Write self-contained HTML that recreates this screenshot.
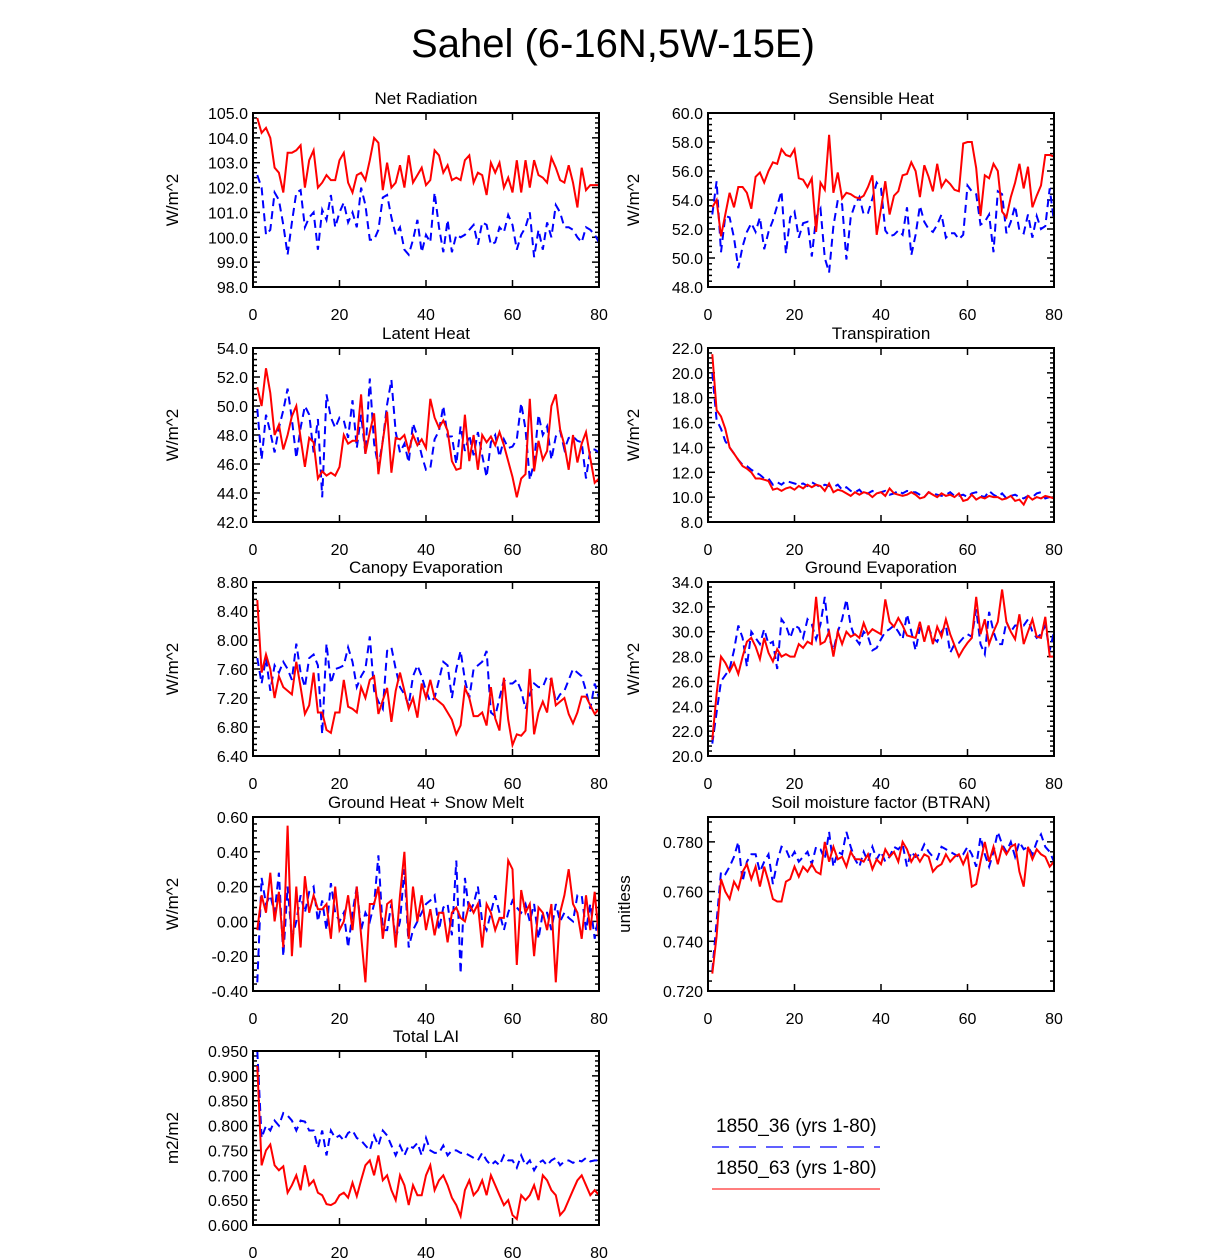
<!DOCTYPE html>
<html><head><meta charset="utf-8"><style>
html,body{margin:0;padding:0;background:#fff;}
svg{display:block;font-family:"Liberation Sans",sans-serif;}
</style></head><body>
<svg id="chart" width="1224" height="1259" viewBox="0 0 1224 1259" xmlns="http://www.w3.org/2000/svg">
<text x="613" y="57" font-size="40" text-anchor="middle">Sahel (6-16N,5W-15E)</text>
<g>
<text x="716" y="1132" font-size="19">1850_36 (yrs 1-80)</text>
<line x1="712" y1="1147" x2="880" y2="1147" stroke="#0000ff" stroke-width="1.3" stroke-dasharray="17,10"/>
<text x="716" y="1174" font-size="19">1850_63 (yrs 1-80)</text>
<line x1="712" y1="1189" x2="880" y2="1189" stroke="#ff3030" stroke-width="1.3"/>
</g>
</svg>
<script>
const xTicks=[0,20,40,60,80];
const netRadRed=[104.8,104.2,104.4,104.0,102.8,102.6,101.8,103.4,103.4,103.5,103.7,102.0,103.1,103.5,102.0,102.2,102.5,102.3,102.3,103.1,103.4,102.2,101.8,102.5,102.6,102.3,103.1,104.0,103.8,101.9,103.0,102.0,102.2,102.9,102.0,103.3,102.2,102.5,102.8,102.1,102.3,103.5,103.3,102.6,102.9,102.3,102.4,102.3,103.1,103.3,102.2,102.6,102.5,101.7,103.0,102.6,103.0,102.0,102.4,101.8,103.1,101.8,103.1,102.0,103.1,102.5,102.4,102.2,103.2,102.8,102.3,102.2,102.9,102.2,101.2,102.8,101.9,102.1,102.1,102.1];
const netRadBlue=[102.5,102.0,100.1,100.3,101.8,101.5,100.5,99.3,100.6,101.8,101.9,100.4,100.8,101.0,99.5,101.1,100.7,101.7,100.4,101.0,101.4,100.6,101.0,100.4,102.0,101.3,99.9,99.9,100.3,101.6,101.7,100.8,100.1,100.4,99.5,99.3,99.9,100.7,99.4,100.1,99.8,101.8,100.4,99.4,100.7,99.4,100.1,100.0,100.1,100.3,100.5,99.7,100.6,100.5,99.7,99.8,100.4,100.2,100.9,100.5,99.5,100.1,100.4,101.0,99.2,100.3,99.5,100.6,100.0,101.3,101.0,100.4,100.4,100.3,100.0,99.8,100.4,100.3,100.1,99.8];
const shRed=[53.5,54.0,51.5,53.0,54.5,53.5,54.9,54.9,54.5,53.4,55.6,55.9,55.2,56.0,56.6,56.5,57.5,57.1,57.0,57.5,55.5,55.4,54.9,55.5,51.8,55.2,54.7,58.5,54.5,55.9,54.1,54.5,54.4,54.2,54.1,54.3,54.9,55.7,51.6,53.4,55.3,53.0,54.3,54.6,55.7,55.8,56.6,56.0,54.2,56.4,55.6,54.6,56.5,54.9,55.4,55.1,54.7,54.6,57.9,58.0,58.0,56.2,52.9,55.7,55.5,56.5,56.0,53.2,52.8,54.2,55.2,56.5,54.8,56.3,53.5,54.3,55.0,57.1,57.1,57.0];
const shBlue=[53.0,55.3,50.4,52.9,52.8,51.4,49.3,50.8,51.8,52.4,51.8,52.8,50.6,51.8,52.6,53.6,54.6,50.3,52.8,53.2,51.4,52.4,52.5,50.1,52.8,53.4,50.0,49.0,52.2,54.0,53.7,49.9,52.8,53.7,54.2,53.0,53.1,54.1,55.2,54.8,51.9,51.5,51.6,51.9,51.6,53.5,50.2,51.6,53.6,52.5,52.0,51.8,52.3,53.0,51.4,51.7,51.7,51.3,51.6,55.0,54.6,54.4,52.3,52.5,53.0,50.4,54.6,54.4,51.7,52.5,53.6,51.9,51.7,53.0,51.4,52.9,52.0,52.2,54.8,52.5];
const lhRed=[51.3,50.0,52.6,50.9,48.0,48.7,47.0,48.0,49.3,50.0,47.8,45.8,47.8,47.5,45.0,45.5,45.2,45.4,45.2,45.8,48.0,47.4,47.6,47.6,50.8,46.7,48.2,49.5,45.3,47.6,49.6,45.4,47.8,47.7,48.0,46.9,48.0,47.3,47.7,47.1,50.5,49.2,48.5,49.0,48.3,46.2,45.6,45.7,49.4,46.2,48.0,45.6,48.0,47.5,47.9,47.3,48.2,47.3,46.2,45.1,43.7,45.0,45.3,50.5,45.5,47.6,46.3,46.9,50.0,50.8,48.4,47.3,45.6,48.0,46.1,47.4,48.2,46.4,44.7,45.0];
const lhBlue=[49.8,46.3,49.4,48.2,46.8,48.5,49.7,51.2,49.1,46.4,48.5,50.0,49.4,46.8,49.1,43.7,50.8,49.2,48.5,49.2,49.0,47.8,50.4,47.1,49.4,46.7,51.9,47.4,45.8,47.6,50.1,51.8,48.2,46.8,47.4,46.1,48.8,47.9,46.6,45.6,45.7,47.7,48.3,50.0,47.9,47.9,46.0,48.6,46.9,48.0,46.6,48.2,46.6,45.1,47.5,48.0,46.5,47.7,47.1,47.2,47.7,50.2,48.4,44.9,46.1,49.4,48.0,48.6,46.3,47.9,48.3,47.0,47.8,47.9,47.6,47.5,45.0,47.0,47.0,46.8];
const trRed=[21.5,17.0,16.5,15.5,14.0,13.5,13.0,12.5,12.3,12.0,11.5,11.5,11.4,11.3,10.6,10.7,10.5,10.7,10.8,10.6,10.9,10.7,11.0,10.8,11.0,10.9,10.5,11.1,10.4,10.6,10.5,10.3,10.1,10.4,10.2,10.4,10.3,10.0,10.3,10.4,10.1,10.7,10.3,10.2,10.1,10.2,10.4,10.2,9.9,10.0,10.4,10.2,10.0,10.3,10.1,10.2,10.0,10.3,9.7,9.8,10.2,9.8,10.0,9.9,10.1,10.0,10.0,9.8,9.9,10.1,9.7,9.8,9.4,10.1,9.8,10.0,9.9,10.1,10.0,9.9];
const trBlue=[20.0,16.2,15.5,14.5,14.0,13.5,13.0,12.6,12.5,12.2,12.0,11.8,11.5,11.5,11.0,11.2,11.0,11.3,11.2,11.1,11.0,11.1,10.9,11.2,11.0,10.8,11.0,10.9,10.8,11.0,10.6,10.8,10.5,10.4,10.6,10.2,10.3,10.5,10.3,10.4,10.5,10.2,10.3,10.5,10.3,10.5,10.4,10.4,10.2,10.0,10.4,10.3,10.2,10.1,10.2,10.4,10.1,10.1,10.2,10.0,10.3,10.4,10.1,10.0,10.5,10.2,10.0,10.3,9.9,10.1,10.2,10.0,9.9,10.1,10.0,10.3,10.4,9.9,10.0,10.1];
const ceRed=[8.55,7.55,7.8,7.6,7.2,7.5,7.35,7.3,7.25,7.7,7.35,6.98,7.1,7.55,7.0,7.0,6.76,6.72,7.0,7.0,7.45,7.08,7.05,7.0,7.35,7.2,7.45,7.5,6.98,7.17,7.34,6.87,7.3,7.55,7.3,7.05,7.2,6.93,7.4,7.2,7.45,7.2,7.15,7.1,7.0,6.9,6.7,6.82,7.34,7.2,6.95,6.95,7.0,6.82,7.35,6.92,6.75,7.48,6.9,6.55,6.7,6.68,6.75,7.6,6.7,7.0,7.15,7.0,7.48,7.1,7.15,7.2,6.98,6.85,7.0,7.22,7.22,7.1,6.98,7.05];
const ceBlue=[7.75,7.4,7.75,7.3,7.65,7.55,7.7,7.6,7.45,7.95,7.55,7.35,7.75,7.8,7.65,6.7,7.95,7.4,7.6,7.62,7.65,7.9,7.7,7.35,7.5,7.6,8.05,7.3,7.15,7.05,7.85,7.9,7.6,7.35,7.25,7.1,7.5,7.65,7.5,7.3,7.15,7.2,7.45,7.7,7.65,7.2,7.6,7.85,7.45,7.2,7.6,7.65,7.7,7.85,7.0,6.95,7.2,7.45,7.4,7.4,7.45,7.3,7.05,7.25,7.4,7.35,7.35,7.5,7.45,7.15,7.25,7.3,7.45,7.6,7.55,7.5,7.3,7.05,7.4,7.2];
const geRed=[21.3,25.0,28.0,27.5,26.8,27.5,26.6,28.0,29.2,29.5,28.8,27.8,29.5,28.3,27.6,28.6,28.0,28.2,28.0,28.0,29.0,28.7,29.2,29.0,32.8,29.0,29.2,30.0,28.0,30.0,29.0,30.0,29.6,29.8,29.5,30.7,29.8,30.2,30.0,29.8,32.6,30.8,30.4,31.1,30.5,29.7,29.6,29.5,30.8,29.2,30.5,29.0,30.4,29.6,31.0,29.8,28.9,28.0,28.6,29.1,29.5,32.8,29.8,31.0,29.0,30.0,30.8,33.4,30.8,30.0,29.4,31.4,29.0,30.0,31.0,29.6,29.5,31.2,28.0,28.0];
const geBlue=[21.0,23.5,26.0,26.5,27.0,28.5,30.5,29.5,27.2,30.0,29.5,29.0,30.2,29.0,29.2,27.0,31.0,30.5,29.5,30.5,30.3,29.5,31.0,30.6,29.4,30.6,32.8,29.5,28.5,30.0,31.0,32.6,30.5,29.5,29.0,30.0,29.6,28.5,28.7,29.4,30.0,30.2,30.5,30.0,29.4,31.4,30.0,28.5,30.3,30.3,30.3,29.5,29.2,30.0,30.5,28.3,29.0,29.1,29.5,29.8,29.6,31.8,29.0,28.2,31.6,30.0,29.0,29.0,30.8,30.0,30.5,30.5,30.5,31.0,30.0,29.5,29.8,30.5,28.5,30.0];
const ghRed=[-0.05,0.15,0.05,0.28,0.0,0.17,-0.15,0.55,-0.2,0.2,-0.15,0.26,0.05,0.15,0.07,0.07,0.1,-0.1,0.2,-0.05,0.0,0.15,-0.05,0.2,-0.08,-0.35,0.1,0.1,0.2,-0.1,0.1,0.12,-0.15,0.15,0.4,-0.1,0.2,0.0,0.15,-0.05,0.07,-0.08,0.05,0.05,-0.12,0.05,0.08,0.02,0.0,0.1,0.05,0.1,-0.15,0.1,0.05,-0.05,0.02,0.02,0.35,0.3,-0.25,0.18,0.05,0.1,-0.2,0.08,0.05,-0.05,0.1,-0.35,0.05,0.15,0.3,0.1,0.05,-0.1,0.15,-0.05,0.17,-0.1];
const ghBlue=[-0.35,0.25,0.1,0.15,0.05,0.28,-0.2,0.2,-0.1,0.0,0.15,0.05,0.17,0.2,0.0,0.12,-0.05,0.22,0.05,0.0,0.05,-0.15,0.05,0.2,-0.05,0.05,0.0,0.1,0.38,-0.05,-0.05,0.1,-0.1,0.0,0.3,-0.15,-0.05,0.0,0.05,0.1,0.12,0.15,-0.05,0.08,0.1,-0.08,0.35,-0.3,0.25,0.05,0.1,0.2,0.0,-0.05,0.05,0.15,0.05,-0.05,0.05,0.12,0.08,0.05,0.1,0.0,0.1,-0.1,0.05,0.05,-0.05,0.1,0.0,0.05,0.02,0.0,0.15,0.15,-0.05,0.1,-0.1,0.05];
const btRed=[0.727,0.742,0.765,0.760,0.757,0.764,0.761,0.768,0.771,0.765,0.770,0.762,0.770,0.764,0.757,0.756,0.756,0.764,0.765,0.770,0.766,0.770,0.768,0.771,0.768,0.767,0.780,0.772,0.778,0.773,0.774,0.770,0.776,0.773,0.773,0.772,0.775,0.769,0.773,0.771,0.777,0.774,0.776,0.772,0.780,0.777,0.772,0.775,0.772,0.775,0.774,0.768,0.770,0.771,0.775,0.772,0.774,0.775,0.771,0.775,0.762,0.763,0.772,0.780,0.772,0.778,0.771,0.778,0.775,0.778,0.779,0.768,0.762,0.778,0.773,0.777,0.775,0.774,0.770,0.772];
const btBlue=[0.728,0.748,0.768,0.767,0.770,0.774,0.780,0.764,0.772,0.775,0.775,0.768,0.772,0.775,0.763,0.772,0.778,0.777,0.773,0.776,0.772,0.774,0.776,0.771,0.778,0.777,0.773,0.784,0.770,0.776,0.775,0.784,0.778,0.773,0.770,0.776,0.772,0.778,0.773,0.776,0.772,0.774,0.778,0.777,0.779,0.770,0.776,0.774,0.775,0.779,0.776,0.774,0.773,0.778,0.777,0.776,0.775,0.774,0.775,0.778,0.775,0.770,0.782,0.775,0.770,0.776,0.784,0.779,0.776,0.780,0.774,0.780,0.777,0.778,0.775,0.780,0.783,0.778,0.776,0.772];
const laiRed=[0.920,0.720,0.750,0.762,0.720,0.710,0.718,0.665,0.680,0.700,0.670,0.720,0.680,0.690,0.665,0.660,0.642,0.640,0.645,0.660,0.665,0.655,0.685,0.658,0.690,0.720,0.730,0.700,0.740,0.690,0.700,0.670,0.650,0.700,0.680,0.640,0.680,0.660,0.660,0.700,0.720,0.670,0.690,0.700,0.680,0.655,0.640,0.618,0.670,0.690,0.660,0.670,0.690,0.660,0.700,0.680,0.660,0.640,0.650,0.620,0.612,0.660,0.650,0.660,0.680,0.650,0.700,0.690,0.670,0.660,0.620,0.630,0.650,0.670,0.690,0.700,0.680,0.660,0.670,0.660];
const laiBlue=[0.950,0.775,0.800,0.790,0.810,0.800,0.825,0.820,0.810,0.790,0.810,0.808,0.790,0.790,0.755,0.790,0.740,0.790,0.775,0.780,0.770,0.785,0.790,0.775,0.770,0.760,0.750,0.780,0.760,0.790,0.780,0.760,0.740,0.760,0.740,0.760,0.755,0.765,0.740,0.775,0.750,0.745,0.745,0.760,0.740,0.750,0.750,0.745,0.745,0.740,0.735,0.730,0.745,0.730,0.720,0.728,0.720,0.740,0.730,0.730,0.715,0.740,0.720,0.730,0.710,0.725,0.730,0.720,0.730,0.735,0.720,0.728,0.730,0.725,0.730,0.728,0.735,0.728,0.730,0.730];

const panels=[
 {name:'net-radiation',title:'Net Radiation',yt:'W/m^2',col:0,row:0,ymin:98,ymax:105,step:1,dec:1,red:netRadRed,blue:netRadBlue},
 {name:'sensible-heat',title:'Sensible Heat',yt:'W/m^2',col:1,row:0,ymin:48,ymax:60,step:2,dec:1,red:shRed,blue:shBlue},
 {name:'latent-heat',title:'Latent Heat',yt:'W/m^2',col:0,row:1,ymin:42,ymax:54,step:2,dec:1,red:lhRed,blue:lhBlue},
 {name:'transpiration',title:'Transpiration',yt:'W/m^2',col:1,row:1,ymin:8,ymax:22,step:2,dec:1,red:trRed,blue:trBlue},
 {name:'canopy-evaporation',title:'Canopy Evaporation',yt:'W/m^2',col:0,row:2,ymin:6.4,ymax:8.8,step:0.4,dec:2,red:ceRed,blue:ceBlue},
 {name:'ground-evaporation',title:'Ground Evaporation',yt:'W/m^2',col:1,row:2,ymin:20,ymax:34,step:2,dec:1,red:geRed,blue:geBlue},
 {name:'ground-heat',title:'Ground Heat + Snow Melt',yt:'W/m^2',col:0,row:3,ymin:-0.4,ymax:0.6,step:0.2,dec:2,red:ghRed,blue:ghBlue},
 {name:'btran',title:'Soil moisture factor (BTRAN)',yt:'unitless',col:1,row:3,ymin:0.72,ymax:0.79,step:0.02,dec:3,red:btRed,blue:btBlue},
 {name:'total-lai',title:'Total LAI',yt:'m2/m2',col:0,row:4,ymin:0.6,ymax:0.95,step:0.05,dec:3,red:laiRed,blue:laiBlue}
];
const NS='http://www.w3.org/2000/svg';
const svg=document.getElementById('chart');
function mk(tag,attrs,parent){const e=document.createElementNS(NS,tag);for(const k in attrs)e.setAttribute(k,attrs[k]);parent.appendChild(e);return e;}
const lefts=[253,708], tops=[113,348,582,817,1051], W=346, H=174;
panels.forEach(p=>{
 const x0=lefts[p.col], y0=tops[p.row];
 const g=mk('g',{},svg);
 
 
 const X=v=>x0+v/80*W;
 const Y=v=>y0+H-(v-p.ymin)/(p.ymax-p.ymin)*H;
 const t=mk('text',{x:x0+W/2,y:y0-9,'font-size':17,'text-anchor':'middle'},g);
 
 
 t.textContent=p.title;
 const yx=p.col===0?178:(p.name==='btran'?630:639);
 const yt=mk('text',{x:yx,y:y0+H/2,'font-size':17,'text-anchor':'middle',transform:`rotate(-90 ${yx} ${y0+H/2})`},g);
 
 
 yt.textContent=p.yt;
 const tk=mk('g',{stroke:'#000','stroke-width':1.5},g);
 
 
 const nMaj=Math.round((p.ymax-p.ymin)/p.step);
 for(let i=0;i<=nMaj*5;i++){
  const v=p.ymin+i*p.step/5; if(v>p.ymax+1e-9)break;
  const yy=Y(v), len=(i%5===0)?7:4;
  mk('line',{x1:x0,y1:yy,x2:x0+len,y2:yy},tk);
  mk('line',{x1:x0+W,y1:yy,x2:x0+W-len,y2:yy},tk);
  if(i%5===0){
   const lb=mk('text',{x:x0-5,y:yy+6,'font-size':16,'text-anchor':'end',stroke:'none'},g);
   
   
   lb.textContent=v.toFixed(p.dec);
  }
 }
 xTicks.forEach(v=>{
  const xx=X(v);
  mk('line',{x1:xx,y1:y0+H,x2:xx,y2:y0+H-7},tk);
  mk('line',{x1:xx,y1:y0,x2:xx,y2:y0+7},tk);
  const lb=mk('text',{x:xx,y:y0+H+33,'font-size':16,'text-anchor':'middle'},g);
  
  
  lb.textContent=v;
 });
 const path=arr=>arr.map((v,i)=>(i?'L':'M')+X(i+1).toFixed(1)+','+Y(v).toFixed(1)).join('');
 const b=mk('path',{d:path(p.blue),fill:'none',stroke:'#0000ff','stroke-width':2,'stroke-dasharray':'8,5'},g);
 
 
 const r=mk('path',{d:path(p.red),fill:'none',stroke:'#ff0000','stroke-width':2},g);
 
 
 const fr=mk('rect',{x:x0,y:y0,width:W,height:H,fill:'none',stroke:'#000','stroke-width':2},g);
 
 
});
</script>
</body></html>
